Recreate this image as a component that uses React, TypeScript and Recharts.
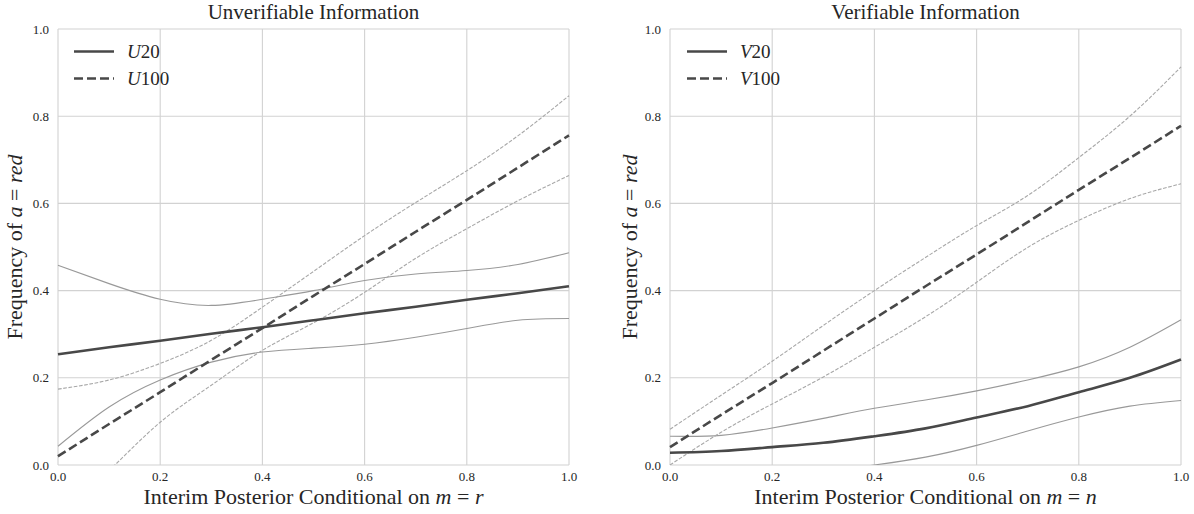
import React from 'react';
import { LineChart, Line, XAxis, YAxis, CartesianGrid, Legend } from 'recharts';

const xVals = [0, 0.1, 0.2, 0.3, 0.4, 0.5, 0.6, 0.7, 0.8, 0.9, 1.0];
const axisTicks = [0, 0.2, 0.4, 0.6, 0.8, 1.0];

// Unverifiable information (left panel)
const u20 = [0.254, 0.27, 0.285, 0.301, 0.316, 0.332, 0.348, 0.363, 0.379, 0.394, 0.41];
const u20Hi = [0.458, 0.416, 0.38, 0.366, 0.38, 0.4, 0.423, 0.438, 0.446, 0.46, 0.487];
const u20Lo = [0.043, 0.133, 0.195, 0.236, 0.259, 0.268, 0.277, 0.293, 0.313, 0.332, 0.336];
const u100 = [0.02, 0.094, 0.167, 0.241, 0.314, 0.388, 0.461, 0.535, 0.608, 0.682, 0.756];
const u100Hi = [0.174, 0.195, 0.233, 0.286, 0.362, 0.444, 0.526, 0.602, 0.675, 0.755, 0.847];
const u100Lo = [-0.12, -0.013, 0.098, 0.183, 0.263, 0.326, 0.396, 0.474, 0.542, 0.606, 0.664];

// Verifiable information (right panel)
const v20 = [0.028, 0.032, 0.041, 0.051, 0.066, 0.084, 0.109, 0.135, 0.167, 0.2, 0.242];
const v20Hi = [0.066, 0.068, 0.085, 0.107, 0.13, 0.149, 0.17, 0.195, 0.225, 0.27, 0.333];
const v20Lo = [-0.06, -0.045, -0.03, -0.015, 0.0, 0.018, 0.045, 0.078, 0.11, 0.135, 0.148];
const v100 = [0.041, 0.115, 0.188, 0.262, 0.336, 0.41, 0.483, 0.557, 0.631, 0.704, 0.778];
const v100Hi = [0.082, 0.16, 0.238, 0.32, 0.4, 0.476, 0.549, 0.618, 0.705, 0.8, 0.913];
const v100Lo = [0.0, 0.075, 0.14, 0.202, 0.27, 0.34, 0.419, 0.499, 0.561, 0.611, 0.645];

const FONT = '"Liberation Serif", "Times New Roman", serif';
const INK = '#262626';
const MAIN = '#484848';
const BAND = '#999999';
const BAND_DASH = '#a8a8a8';
const GRID = '#d2d2d2';

const fmt = (v: number) => v.toFixed(1);

const makeLegend = (letter: string) => (props: any) => {
  const wanted = [`${letter}20`, `${letter}100`];
  const items = wanted
    .map((w) => (props.payload || []).find((e: any) => e.value === w))
    .filter(Boolean);
  return (
    <div>
      {items.map((e: any) => (
        <div key={e.value} style={{ display: 'flex', alignItems: 'center', height: 27 }}>
          <svg width={44} height={27}>
            <line x1={4} x2={44} y1={13.5} y2={13.5} stroke={MAIN} strokeWidth={2.6}
              strokeDasharray={e.payload?.strokeDasharray} />
          </svg>
          <span style={{ marginLeft: 13, fontFamily: FONT, fontSize: 19, color: INK, whiteSpace: 'nowrap' }}>
            <i>{String(e.value).slice(0, 1)}</i>{String(e.value).slice(1)}
          </span>
        </div>
      ))}
    </div>
  );
};

type PanelProps = {
  title: string;
  letter: string;
  mVar: string;
  s20: number[];
  s20Hi: number[];
  s20Lo: number[];
  s100: number[];
  s100Hi: number[];
  s100Lo: number[];
  left: number;
  axisW: number;
  rightPad: number;
  legendLeft: number;
  yLabelX: number;
};

function Panel(p: PanelProps) {
  const data = xVals.map((x, i) => ({
    x,
    m20: p.s20[i],
    hi20: p.s20Hi[i],
    lo20: p.s20Lo[i],
    m100: p.s100[i],
    hi100: p.s100Hi[i],
    lo100: p.s100Lo[i],
  }));
  const plotW = 597 - p.axisW - p.rightPad;
  const cx = p.axisW + plotW / 2;
  const tickStyle = { fontSize: 13, fill: INK, fontFamily: FONT };

  return (
    <div style={{ position: 'absolute', left: p.left, top: 0, width: 597, height: 514 }}>
      <LineChart width={597} height={514} data={data} margin={{ top: 29, right: p.rightPad, bottom: 0, left: 0 }}>
        <CartesianGrid stroke={GRID} strokeWidth={1.1} />
        <XAxis
          dataKey="x"
          type="number"
          domain={[0, 1]}
          ticks={axisTicks}
          tickFormatter={fmt}
          axisLine={false}
          tickLine={false}
          tickSize={0}
          tickMargin={7}
          height={49}
          tick={tickStyle}
          label={() => (
            <text x={cx} y={504} textAnchor="middle" fontFamily={FONT} fontSize={22} fill={INK}>
              <tspan>Interim Posterior Conditional on </tspan>
              <tspan fontStyle="italic">m</tspan>
              <tspan> = </tspan>
              <tspan fontStyle="italic">{p.mVar}</tspan>
            </text>
          )}
        />
        <YAxis
          type="number"
          domain={[0, 1]}
          allowDataOverflow
          ticks={axisTicks}
          tickFormatter={fmt}
          axisLine={false}
          tickLine={false}
          tickSize={0}
          tickMargin={9}
          width={p.axisW}
          tick={tickStyle}
          label={() => (
            <text x={p.yLabelX} y={247} textAnchor="middle" fontFamily={FONT} fontSize={22} fill={INK}
              transform={`rotate(-90, ${p.yLabelX}, 247)`}>
              <tspan>Frequency of </tspan>
              <tspan fontStyle="italic">a</tspan>
              <tspan> = </tspan>
              <tspan fontStyle="italic">red</tspan>
            </text>
          )}
        />
        <text x={cx} y={19} textAnchor="middle" fontFamily={FONT} fontSize={21} fill={INK}>{p.title}</text>
        <Legend
          layout="vertical"
          align="center"
          verticalAlign="middle"
          content={makeLegend(p.letter)}
          wrapperStyle={{ top: 38, left: p.legendLeft, width: 'auto', height: 'auto' }}
        />
        <Line dataKey="hi20" type="natural" stroke={BAND} strokeWidth={1.1} dot={false} activeDot={false}
          legendType="none" isAnimationActive={false} />
        <Line dataKey="lo20" type="natural" stroke={BAND} strokeWidth={1.1} dot={false} activeDot={false}
          legendType="none" isAnimationActive={false} />
        <Line dataKey="hi100" type="natural" stroke={BAND_DASH} strokeWidth={1.1} strokeDasharray="3.7 1.6"
          dot={false} activeDot={false} legendType="none" isAnimationActive={false} />
        <Line dataKey="lo100" type="natural" stroke={BAND_DASH} strokeWidth={1.1} strokeDasharray="3.7 1.6"
          dot={false} activeDot={false} legendType="none" isAnimationActive={false} />
        <Line dataKey="m20" name={`${p.letter}20`} type="natural" stroke={MAIN} strokeWidth={2.6} dot={false}
          activeDot={false} isAnimationActive={false} />
        <Line dataKey="m100" name={`${p.letter}100`} type="natural" stroke={MAIN} strokeWidth={2.6}
          strokeDasharray="9 4" dot={false} activeDot={false} isAnimationActive={false} />
      </LineChart>
    </div>
  );
}

export default function App() {
  return (
    <div style={{ position: 'absolute', left: 0, top: 0, width: 1194, height: 514, background: '#fff' }}>
      <Panel title="Unverifiable Information" letter="U" mVar="r"
        s20={u20} s20Hi={u20Hi} s20Lo={u20Lo} s100={u100} s100Hi={u100Hi} s100Lo={u100Lo}
        left={0} axisW={58} rightPad={28} legendLeft={70} yLabelX={22} />
      <Panel title="Verifiable Information" letter="V" mVar="n"
        s20={v20} s20Hi={v20Hi} s20Lo={v20Lo} s100={v100} s100Hi={v100Hi} s100Lo={v100Lo}
        left={597} axisW={73} rightPad={13} legendLeft={86} yLabelX={40} />
    </div>
  );
}
